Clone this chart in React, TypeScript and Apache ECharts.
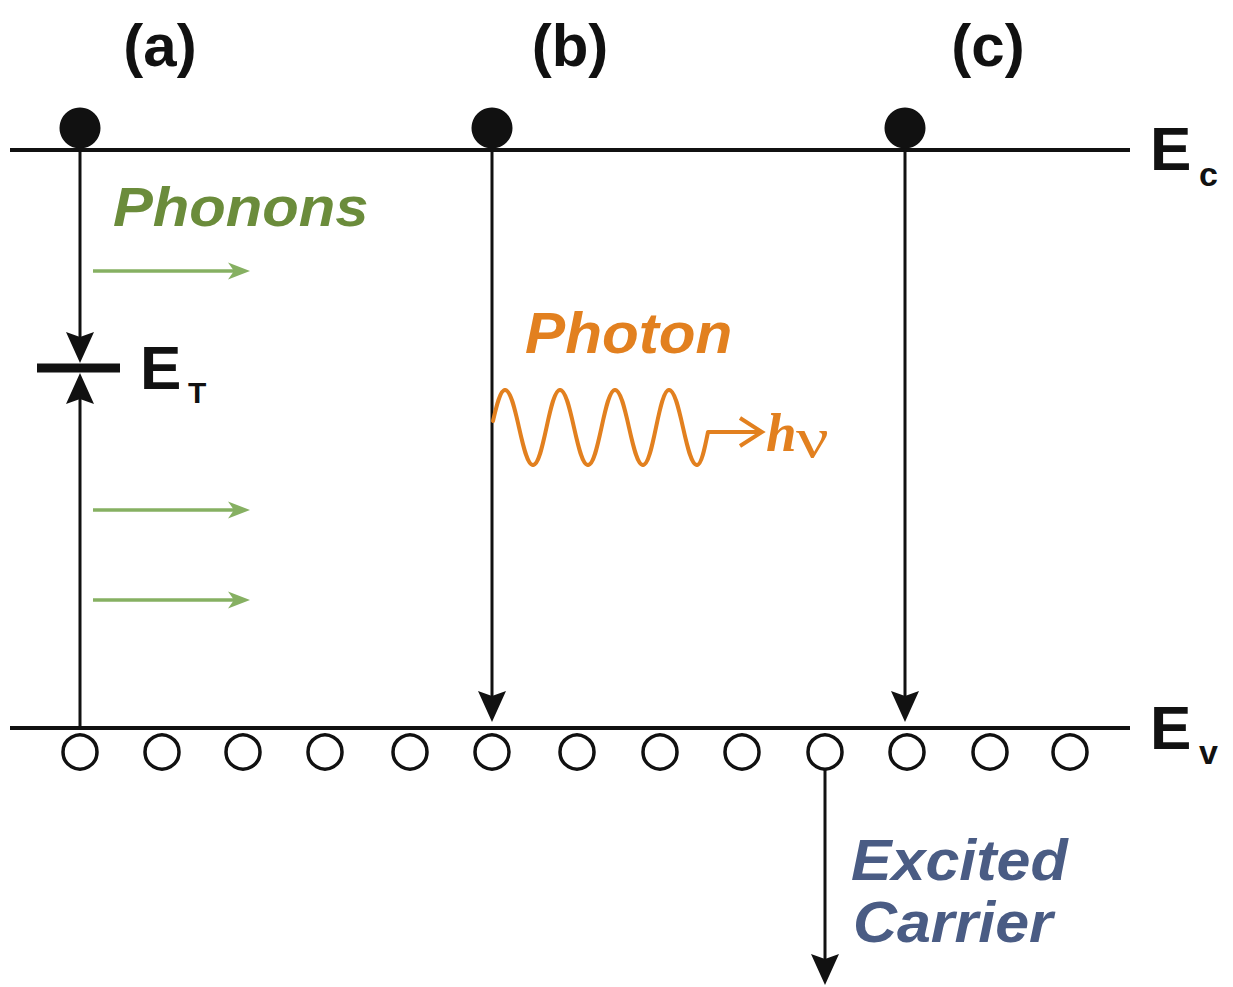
import React, { useEffect, useRef } from "react";
import * as echarts from "echarts";

const W = 1233;
const H = 987;

// Band energy levels (y in screen px, downwards)
const bandEc = [[10, 150], [1130, 150]];
const bandEv = [[10, 728], [1130, 728]];
const trapLevel = [[37, 368], [120, 368]];

// Carriers
const electronsX = [80, 492, 905];
const electronY = 128;
const holesX = [80, 162, 243, 325, 410, 492, 577, 660, 742, 825, 907, 990, 1070];
const holeY = 752;

// Transition arrows: [x1, y1, x2, y2]
const blackArrows = [
  [80, 150, 80, 363],
  [80, 728, 80, 373],
  [492, 150, 492, 722],
  [905, 150, 905, 722],
  [825, 770, 825, 985],
];
const phononArrows = [
  [93, 271, 250, 271],
  [93, 510, 250, 510],
  [93, 600, 250, 600],
];
const photonArrow = [[708, 432, 762, 432]];

// Photon wave: start, alternating crests and troughs, end
const photonWave = [
  [493, 421], [505, 390], [533, 465], [560, 390], [588, 465],
  [615, 390], [643, 465], [669, 390], [697, 465], [708, 432],
];
// consecutive wave points joined into segments [x0, y0, x1, y1]
const waveSegments = photonWave.slice(1).map((p, i) => [...photonWave[i], ...p]);

const GREEN_TEXT = "#6b8c3b";
const GREEN_ARROW = "#86b062";
const ORANGE = "#e2801f";
const BLUE = "#4a5c84";
const BLACK = "#111111";
const SANS = "'Liberation Sans', Arial, sans-serif";
const SERIF = "'Liberation Serif', 'Times New Roman', serif";

function arrowRenderer(headLen: number, headHalf: number, notch: number, color: string, width: number, open: boolean) {
  return (params: any, api: any) => {
    const a = api.coord([api.value(0), api.value(1)]);
    const b = api.coord([api.value(2), api.value(3)]);
    const dx = b[0] - a[0];
    const dy = b[1] - a[1];
    const L = Math.hypot(dx, dy) || 1;
    const ux = dx / L, uy = dy / L;
    const px = -uy, py = ux;
    const base = [b[0] - ux * headLen, b[1] - uy * headLen];
    const left = [base[0] + px * headHalf, base[1] + py * headHalf];
    const right = [base[0] - px * headHalf, base[1] - py * headHalf];
    const inner = [b[0] - ux * (headLen - notch), b[1] - uy * (headLen - notch)];
    const shaftEnd = open ? [b[0] - ux * 2, b[1] - uy * 2] : inner;
    const children: any[] = [
      {
        type: "line",
        shape: { x1: a[0], y1: a[1], x2: shaftEnd[0], y2: shaftEnd[1] },
        style: { stroke: color, lineWidth: width },
      },
    ];
    if (open) {
      children.push({
        type: "polyline",
        shape: { points: [left, b, right] },
        style: { stroke: color, lineWidth: width, fill: "none", lineJoin: "miter" },
      });
    } else {
      children.push({
        type: "polygon",
        shape: { points: [b, left, inner, right] },
        style: { fill: color },
      });
    }
    return { type: "group", children };
  };
}

// Each wave segment runs between extremes with flat tangents; the first and
// last segments start/end on the mid line, where the curve is steep.
function waveRenderer(params: any, api: any) {
  const a = api.coord([api.value(0), api.value(1)]);
  const b = api.coord([api.value(2), api.value(3)]);
  const dx = b[0] - a[0];
  const dy = b[1] - a[1];
  const first = params.dataIndex === 0;
  const last = params.dataIndex === waveSegments.length - 1;
  const cp1 = first ? [a[0] + dx * 0.3, a[1] + dy * 0.5] : [a[0] + dx * 0.4, a[1]];
  const cp2 = last ? [b[0] - dx * 0.3, b[1] - dy * 0.5] : [b[0] - dx * 0.4, b[1]];
  return {
    type: "bezierCurve",
    shape: {
      x1: a[0], y1: a[1],
      cpx1: cp1[0], cpy1: cp1[1],
      cpx2: cp2[0], cpy2: cp2[1],
      x2: b[0], y2: b[1],
    },
    style: { stroke: ORANGE, lineWidth: 4, fill: "none", lineCap: "round" },
  };
}

function txt(text: string, x: number, y: number, font: string, fill: string, align = "left", sx = 1) {
  return {
    type: "text",
    z: 10,
    x,
    y,
    scaleX: sx,
    style: { text, x: 0, y: 0, font, fill, align, verticalAlign: "middle" },
  };
}

export default function App() {
  const ref = useRef<HTMLDivElement>(null);

  useEffect(() => {
    if (!ref.current) return;
    const chart = echarts.init(ref.current, undefined, { renderer: "svg" });
    const option: any = {
      animation: false,
      backgroundColor: "#ffffff",
      grid: { left: 0, right: 0, top: 0, bottom: 0 },
      xAxis: { type: "value", min: 0, max: W, show: false },
      yAxis: { type: "value", min: 0, max: H, inverse: true, show: false },
      series: [
        {
          type: "line", data: bandEc, symbol: "none", z: 2,
          lineStyle: { color: BLACK, width: 4 },
        },
        {
          type: "line", data: bandEv, symbol: "none", z: 2,
          lineStyle: { color: BLACK, width: 4 },
        },
        {
          type: "line", data: trapLevel, symbol: "none", z: 2,
          lineStyle: { color: BLACK, width: 9 },
        },
        {
          type: "custom", coordinateSystem: "cartesian2d", z: 3,
          encode: { x: [0, 2], y: [1, 3] },
          data: blackArrows,
          renderItem: arrowRenderer(31, 14, 5, BLACK, 3, false),
        },
        {
          type: "custom", coordinateSystem: "cartesian2d", z: 3,
          encode: { x: [0, 2], y: [1, 3] },
          data: phononArrows,
          renderItem: arrowRenderer(22, 8.5, 6, GREEN_ARROW, 3.5, false),
        },
        {
          type: "custom", coordinateSystem: "cartesian2d", z: 3,
          encode: { x: [0, 2], y: [1, 3] },
          data: photonArrow,
          renderItem: arrowRenderer(22, 14, 0, ORANGE, 4, true),
        },
        {
          type: "custom", coordinateSystem: "cartesian2d", z: 4,
          encode: { x: [0, 2], y: [1, 3] },
          data: waveSegments,
          renderItem: waveRenderer,
        },
        {
          type: "scatter", z: 5,
          data: electronsX.map((x) => [x, electronY]),
          symbol: "circle", symbolSize: 41,
          itemStyle: { color: BLACK, opacity: 1 },
        },
        {
          type: "scatter", z: 5,
          data: holesX.map((x) => [x, holeY]),
          symbol: "circle", symbolSize: 34,
          itemStyle: { color: "#ffffff", borderColor: BLACK, borderWidth: 3.5, opacity: 1 },
        },
      ],
      graphic: [
        txt("(a)", 160, 45, `bold 60px ${SANS}`, BLACK, "center"),
        txt("(b)", 570, 45, `bold 60px ${SANS}`, BLACK, "center"),
        txt("(c)", 988, 45, `bold 60px ${SANS}`, BLACK, "center"),
        txt("E", 1150, 148, `bold 62px ${SANS}`, BLACK),
        txt("c", 1199, 174, `bold 34px ${SANS}`, BLACK),
        txt("E", 1150, 727, `bold 62px ${SANS}`, BLACK),
        txt("v", 1199, 752, `bold 34px ${SANS}`, BLACK),
        txt("E", 140, 367, `bold 62px ${SANS}`, BLACK),
        txt("T", 188, 392, `bold 30px ${SANS}`, BLACK),
        txt("Phonons", 113, 207, `italic bold 56px ${SANS}`, GREEN_TEXT, "left", 1.067),
        txt("Photon", 525, 333, `italic bold 57px ${SANS}`, ORANGE, "left", 1.056),
        txt("h", 766, 432, `italic bold 55px ${SERIF}`, ORANGE),
        txt("ν", 796, 437, `normal 58px ${SERIF}`, ORANGE, "left", 1.25),
        txt("Excited", 851, 860, `italic bold 58px ${SANS}`, BLUE, "left", 1.05),
        txt("Carrier", 853, 922, `italic bold 58px ${SANS}`, BLUE, "left", 1.05),
      ],
    };
    chart.setOption(option);
    return () => chart.dispose();
  }, []);

  return (
    <div
      ref={ref}
      style={{ position: "fixed", left: 0, top: 0, width: W, height: H }}
    />
  );
}
